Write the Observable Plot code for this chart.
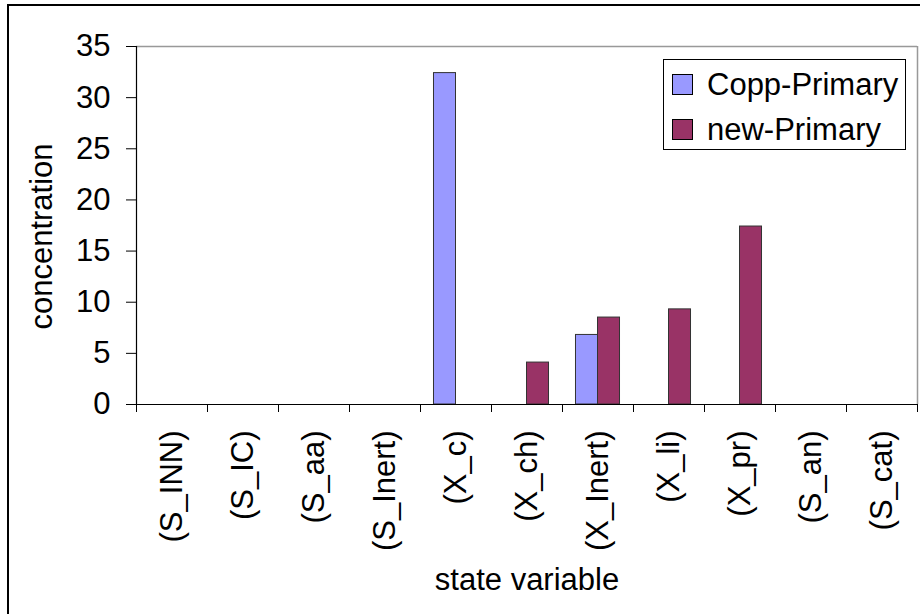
<!DOCTYPE html>
<html>
<head>
<meta charset="utf-8">
<script src="https://cdn.jsdelivr.net/npm/d3@7"></script>
<script src="https://cdn.jsdelivr.net/npm/@observablehq/plot@0.6"></script>
<style>
  body { margin: 0; width: 920px; height: 614px; overflow: hidden; background: #fff;
         font-family: "Liberation Sans", Arial, sans-serif; }
  #wrap { position: relative; width: 920px; height: 614px; overflow: hidden; }
  #outer { position: absolute; left: 7px; top: 4px; width: 940px; height: 640px;
           border: 2px solid #000; box-sizing: border-box; pointer-events: none; }
  #legend { position: absolute; left: 663px; top: 59px; width: 243px; height: 91px;
            border: 1px solid #000; box-sizing: border-box; background: #fff; }
  .item { position: absolute; left: 8px; height: 21px; display: flex; align-items: center;
          font-size: 31px; line-height: 21px; color: #000; white-space: nowrap; }
  .sw { width: 21px; height: 21px; border: 1px solid #000; box-sizing: border-box; margin-right: 14px; }
</style>
</head>
<body>
<div id="wrap">
  <div id="chart"></div>
  <div id="legend"></div>
  <div id="outer"></div>
</div>
<script>
// State variables along the x axis
const categories = ["(S_INN)", "(S_IC)", "(S_aa)", "(S_Inert)", "(X_c)", "(X_ch)",
                    "(X_Inert)", "(X_li)", "(X_pr)", "(S_an)", "(S_cat)"];
// Concentrations per series
const coppPrimary = [0, 0, 0, 0, 32.4, 0, 6.8, 0, 0, 0, 0];
const newPrimary  = [0, 0, 0, 0, 0, 4.1, 8.5, 9.3, 17.4, 0, 0];
const seriesNames = ["Copp-Primary", "new-Primary"];
const seriesColors = ["#9999FF", "#993366"];
const yTicks = [0, 5, 10, 15, 20, 25, 30, 35];

// Long table: one row per category and series
const rows = [];
[coppPrimary, newPrimary].forEach((vals, k) => {
  vals.forEach((v, i) => rows.push({cat: categories[i], i, k, series: seriesNames[k], value: v}));
});

const barW = 0.31; // bar width as a fraction of one category slot
const n = categories.length;

const chart = Plot.plot({
  width: 920,
  height: 614,
  marginLeft: 136,
  marginRight: 3,
  marginTop: 46,
  marginBottom: 210,
  style: {fontFamily: "Liberation Sans, Arial, sans-serif", fontSize: "31px", color: "#000", background: "transparent", overflow: "visible"},
  x: {domain: [0, n], axis: null},
  y: {domain: [0, 35], axis: null},
  color: {domain: seriesNames, range: seriesColors},
  marks: [
    // plot-area border (top and right)
    Plot.ruleY([35], {stroke: "#999", strokeWidth: 1.5}),
    Plot.ruleX([n], {stroke: "#999", strokeWidth: 1.5}),
    // bars
    Plot.rectY(rows.filter(d => d.value > 0), {
      x1: d => d.i + 0.5 + (d.k - 1) * barW,
      x2: d => d.i + 0.5 + d.k * barW,
      y1: 0,
      y2: "value",
      fill: "series",
      stroke: "#333",
      strokeWidth: 1
    }),
    // y axis
    Plot.axisY({ticks: yTicks, tickSize: 10, tickPadding: 16, label: null, tickFormat: d => String(d)}),
    // x axis: tick marks at category boundaries
    Plot.axisX({ticks: d3.range(0, n + 1), tickSize: 8, tickFormat: () => "", label: null}),
    // x axis: rotated category labels
    Plot.axisX({ticks: d3.range(0, n).map(i => i + 0.5), tickFormat: t => categories[Math.floor(t)],
                tickSize: 0, tickPadding: 26, tickRotate: -90, label: null}),
    Plot.ruleX([0], {stroke: "#000", strokeWidth: 1.2}),
    Plot.ruleY([0], {stroke: "#000", strokeWidth: 1.2}),
    // axis titles
    Plot.text(["state variable"], {frameAnchor: "bottom", dy: 185, fontSize: 31}),
    Plot.text(["concentration"], {frameAnchor: "left", textAnchor: "middle", dx: -94, dy: 11, rotate: -90, fontSize: 31})
  ]
});
document.getElementById("chart").appendChild(chart);

// legend
const legend = document.getElementById("legend");
seriesNames.forEach((name, k) => {
  const item = document.createElement("div");
  item.className = "item";
  item.style.top = (14 + k * 45) + "px";
  const sw = document.createElement("div");
  sw.className = "sw";
  sw.style.background = seriesColors[k];
  const label = document.createElement("span");
  label.textContent = name;
  item.appendChild(sw);
  item.appendChild(label);
  legend.appendChild(item);
});
</script>
</body>
</html>
